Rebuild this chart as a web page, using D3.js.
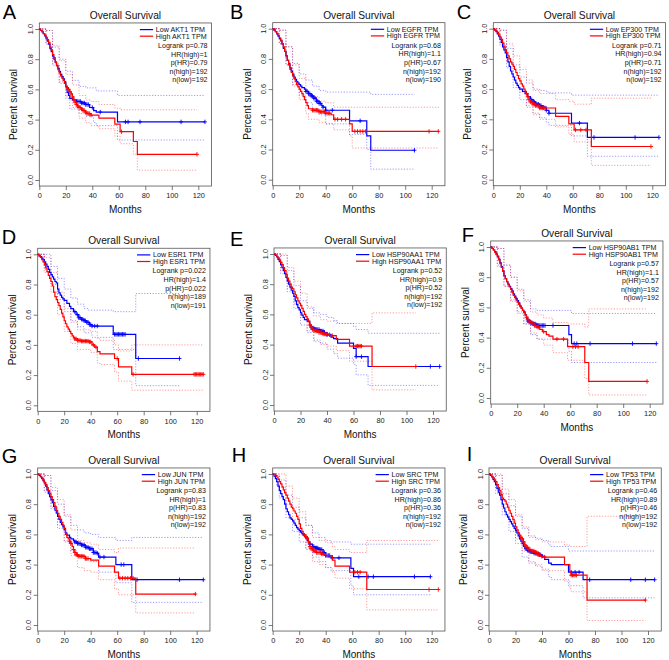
<!DOCTYPE html>
<html><head><meta charset="utf-8">
<script src="https://cdn.jsdelivr.net/npm/d3@7"></script>
<style>body{margin:0;background:#fff}svg{font-family:"Liberation Sans",Arial,Helvetica,sans-serif}</style>
</head><body><svg id="c" width="669" height="660"></svg>
<script>
// ---------- DATA ----------
const genes = ["AKT1","EGFR","EP300","ESR1","HSP90AA1","HSP90AB1","JUN","SRC","TP53"];
const panelLetters = ["A","B","C","D","E","F","G","H","I"];
const logrankP = ["0.78","0.68","0.71","0.022","0.52","0.57","0.83","0.36","0.46"];
const hrHigh = ["1","1.1","0.94","1.4","0.9","1.1","1","0.86","0.89"];
const pHR = ["0.79","0.67","0.71","0.022","0.52","0.57","0.83","0.36","0.46"];
const nHigh = [192,192,192,189,192,192,192,192,192];
const nLow = [192,190,192,191,192,192,192,192,192];
const xTicks = [0,20,40,60,80,100,120];
const yTicks = [0,0.2,0.4,0.6,0.8,1.0];

// survival curves: [month, survival after step]
const akt1Low = [[0,1],[1,0.99],[2,0.98],[3,0.97],[4,0.955],[5,0.94],[6,0.92],[7,0.9],[8,0.87],[9,0.85],[10,0.82],[11,0.8],[12,0.78],[13,0.76],[14,0.74],[15,0.72],[16,0.7],[17,0.685],[18,0.67],[19,0.65],[20,0.62],[21,0.58],[22,0.56],[23,0.54],[25,0.53],[28,0.52],[32,0.51],[35,0.5],[38,0.48],[41,0.46],[43,0.45],[59,0.385],[125,0.385]];
const akt1High = [[0,1],[1,0.99],[2,0.985],[3,0.97],[4,0.96],[5,0.945],[6,0.93],[7,0.91],[8,0.88],[9,0.86],[10,0.83],[11,0.81],[12,0.78],[13,0.755],[14,0.73],[15,0.71],[16,0.69],[17,0.675],[18,0.66],[19,0.64],[20,0.62],[21,0.61],[22,0.6],[23,0.585],[24,0.57],[25,0.55],[26,0.53],[27,0.515],[28,0.5],[29,0.49],[30,0.48],[32,0.47],[33,0.46],[35,0.45],[36,0.44],[39,0.43],[45,0.41],[57,0.37],[61,0.32],[71,0.255],[74,0.17],[119,0.17]];
const akt1LowUp = [[0,1],[5,0.99],[10,0.88],[15,0.8],[20,0.72],[25,0.66],[30,0.62],[35,0.61],[43,0.59],[59,0.56],[125,0.56]];
const akt1LowLo = [[0,1],[5,0.9],[10,0.76],[15,0.65],[20,0.54],[23,0.47],[30,0.44],[35,0.42],[41,0.38],[43,0.36],[59,0.265],[125,0.265]];
const akt1HighUp = [[0,1],[5,0.99],[10,0.89],[15,0.79],[20,0.7],[25,0.63],[30,0.56],[35,0.53],[39,0.52],[45,0.5],[57,0.475],[61,0.465],[119,0.465]];
const akt1HighLo = [[0,1],[5,0.9],[10,0.77],[15,0.64],[20,0.55],[25,0.48],[30,0.41],[35,0.38],[39,0.36],[45,0.34],[57,0.29],[61,0.24],[71,0.17],[74,0.065],[119,0.065]];
const akt1LowCens = [29,30,31,32,33,34,35,36,37,40,46,65,67,76,107,125];
const akt1HighCens = [21,22,23,24,25,26,27,28,29,30,31,32,33,34,35,36,37,38,39,62,119];

const egfrLow = [[0,1],[1,0.99],[2,0.98],[3,0.965],[4,0.95],[5,0.935],[6,0.92],[7,0.9],[8,0.87],[9,0.85],[10,0.82],[11,0.79],[12,0.77],[13,0.74],[14,0.72],[15,0.7],[16,0.68],[17,0.665],[18,0.65],[19,0.64],[20,0.63],[21,0.62],[22,0.61],[24,0.6],[25,0.585],[27,0.57],[29,0.555],[31,0.54],[33,0.52],[35,0.505],[37,0.49],[38,0.48],[40,0.46],[58,0.39],[71,0.29],[74,0.195],[107,0.195]];
const egfrHigh = [[0,1],[1,0.99],[2,0.98],[3,0.97],[4,0.955],[5,0.94],[6,0.925],[7,0.9],[8,0.88],[9,0.85],[10,0.82],[11,0.79],[12,0.76],[13,0.73],[14,0.71],[15,0.69],[16,0.67],[17,0.65],[18,0.63],[19,0.615],[20,0.6],[21,0.585],[22,0.57],[23,0.55],[24,0.53],[25,0.51],[26,0.49],[27,0.47],[30,0.46],[35,0.45],[40,0.44],[44,0.43],[46,0.4],[58,0.37],[60,0.32],[125,0.32]];
const egfrLowUp = [[0,1],[5,0.99],[10,0.88],[15,0.77],[20,0.7],[25,0.66],[30,0.62],[35,0.59],[40,0.58],[74,0.565],[107,0.565]];
const egfrLowLo = [[0,1],[5,0.9],[10,0.76],[15,0.63],[20,0.56],[25,0.51],[30,0.47],[35,0.43],[40,0.37],[58,0.3],[71,0.2],[74,0.07],[107,0.07]];
const egfrHighUp = [[0,1],[5,0.99],[10,0.88],[15,0.76],[20,0.67],[25,0.59],[27,0.55],[35,0.52],[40,0.51],[46,0.48],[125,0.475]];
const egfrHighLo = [[0,1],[5,0.9],[10,0.76],[15,0.62],[20,0.53],[25,0.44],[27,0.4],[35,0.38],[40,0.37],[46,0.33],[58,0.29],[60,0.21],[125,0.21]];
const egfrLowCens = [25,26,27,28,29,30,31,32,33,34,35,36,38,40,45,66,107];
const egfrHighCens = [30,31,32,33,34,35,36,37,38,39,40,41,42,43,47,49,52,55,62,64,66,68,70,118,125];

const ep300Low = [[0,1],[1,0.99],[2,0.98],[3,0.965],[4,0.95],[5,0.93],[6,0.91],[7,0.88],[8,0.86],[9,0.84],[10,0.81],[11,0.78],[12,0.75],[13,0.72],[14,0.7],[15,0.68],[16,0.66],[17,0.64],[18,0.625],[19,0.61],[20,0.6],[22,0.585],[24,0.57],[26,0.55],[28,0.53],[30,0.515],[32,0.5],[35,0.49],[37,0.48],[40,0.46],[42,0.44],[59,0.375],[71,0.28],[125,0.28]];
const ep300High = [[0,1],[1,0.99],[2,0.985],[3,0.975],[4,0.96],[5,0.945],[6,0.93],[7,0.905],[8,0.88],[9,0.86],[10,0.84],[11,0.82],[12,0.8],[13,0.78],[14,0.765],[15,0.75],[16,0.73],[17,0.71],[18,0.69],[19,0.67],[20,0.655],[21,0.635],[22,0.62],[23,0.6],[24,0.585],[25,0.57],[26,0.55],[27,0.53],[28,0.515],[30,0.5],[32,0.49],[35,0.475],[47,0.42],[57,0.37],[61,0.33],[74,0.22],[119,0.22]];
const ep300LowUp = [[0,1],[5,0.99],[10,0.87],[15,0.76],[20,0.68],[25,0.64],[30,0.6],[35,0.59],[40,0.58],[42,0.575],[59,0.56],[125,0.56]];
const ep300LowLo = [[0,1],[5,0.89],[10,0.74],[15,0.61],[20,0.53],[25,0.48],[30,0.44],[35,0.41],[40,0.38],[42,0.36],[59,0.29],[71,0.155],[125,0.155]];
const ep300HighUp = [[0,1],[5,0.99],[10,0.9],[15,0.82],[20,0.73],[25,0.66],[30,0.59],[35,0.57],[47,0.53],[57,0.52],[61,0.5],[74,0.54],[119,0.54]];
const ep300HighLo = [[0,1],[5,0.9],[10,0.78],[15,0.68],[20,0.58],[25,0.49],[30,0.43],[35,0.4],[47,0.35],[57,0.3],[61,0.25],[74,0.095],[119,0.095]];
const ep300LowCens = [28,29,30,31,32,33,34,35,36,37,38,40,42,65,76,107,125];
const ep300HighCens = [25,26,27,28,29,30,31,32,33,34,35,36,37,38,39,62,66,70,119];

const esr1Low = [[0,1],[1,0.99],[2,0.985],[3,0.975],[4,0.965],[5,0.95],[6,0.935],[7,0.92],[8,0.9],[9,0.88],[10,0.865],[11,0.85],[12,0.835],[13,0.82],[14,0.81],[15,0.77],[16,0.745],[17,0.73],[18,0.715],[19,0.705],[20,0.695],[22,0.675],[24,0.655],[25,0.64],[27,0.62],[29,0.6],[31,0.58],[33,0.57],[35,0.56],[37,0.55],[39,0.535],[41,0.525],[57,0.47],[74,0.31],[107,0.31]];
const esr1High = [[0,1],[1,0.99],[2,0.98],[3,0.965],[4,0.95],[5,0.93],[6,0.91],[7,0.885],[8,0.86],[9,0.84],[10,0.82],[11,0.79],[12,0.75],[13,0.72],[14,0.7],[15,0.68],[16,0.66],[17,0.635],[18,0.61],[19,0.585],[20,0.56],[21,0.54],[22,0.52],[23,0.505],[24,0.49],[25,0.475],[26,0.46],[27,0.45],[28,0.44],[30,0.43],[33,0.425],[39,0.42],[41,0.4],[43,0.385],[45,0.355],[47,0.34],[58,0.31],[61,0.255],[71,0.205],[125,0.205]];
const esr1LowUp = [[0,1],[5,1],[10,0.92],[15,0.84],[20,0.77],[25,0.71],[30,0.67],[35,0.64],[38,0.63],[57,0.62],[74,0.74],[107,0.74]];
const esr1LowLo = [[0,1],[5,0.9],[10,0.8],[15,0.7],[20,0.62],[25,0.56],[30,0.52],[35,0.48],[41,0.45],[57,0.37],[74,0.13],[107,0.13]];
const esr1HighUp = [[0,1],[5,0.98],[10,0.88],[15,0.75],[20,0.64],[25,0.55],[30,0.5],[40,0.49],[45,0.44],[47,0.43],[58,0.4],[61,0.36],[71,0.4],[125,0.4]];
const esr1HighLo = [[0,1],[5,0.88],[10,0.75],[15,0.6],[20,0.49],[25,0.41],[30,0.37],[40,0.35],[45,0.28],[47,0.27],[58,0.22],[61,0.16],[71,0.1],[125,0.1]];
const esr1LowCens = [28,30,31,32,33,34,35,36,37,38,39,40,41,43,45,58,59,60,61,62,63,64,65,66,76,107];
const esr1HighCens = [28,29,30,31,32,33,34,35,36,37,38,39,40,42,44,60,72,118,119,120,121,122,123,124,125];

const hsp90aa1Low = [[0,1],[1,0.99],[2,0.98],[3,0.965],[4,0.95],[5,0.93],[6,0.91],[7,0.89],[8,0.87],[9,0.845],[10,0.82],[11,0.8],[12,0.78],[13,0.76],[14,0.74],[15,0.72],[16,0.69],[17,0.665],[18,0.645],[19,0.63],[20,0.61],[21,0.595],[22,0.58],[23,0.565],[25,0.555],[27,0.53],[28,0.51],[31,0.5],[35,0.49],[38,0.48],[40,0.465],[43,0.45],[45,0.44],[48,0.41],[60,0.375],[62,0.32],[71,0.255],[125,0.255]];
const hsp90aa1High = [[0,1],[1,0.995],[2,0.985],[3,0.975],[4,0.96],[5,0.945],[6,0.93],[7,0.91],[8,0.89],[9,0.865],[10,0.84],[11,0.82],[12,0.8],[13,0.78],[14,0.77],[15,0.75],[16,0.73],[17,0.71],[18,0.69],[19,0.675],[20,0.66],[21,0.64],[22,0.62],[23,0.6],[24,0.585],[25,0.57],[26,0.55],[27,0.53],[28,0.515],[29,0.5],[31,0.49],[34,0.48],[37,0.47],[42,0.46],[47,0.435],[57,0.39],[74,0.255],[107,0.255]];
const hsp90aa1LowUp = [[0,1],[5,0.99],[10,0.89],[15,0.79],[20,0.69],[25,0.64],[30,0.61],[35,0.6],[40,0.58],[45,0.56],[48,0.54],[60,0.52],[62,0.5],[71,0.475],[125,0.475]];
const hsp90aa1LowLo = [[0,1],[5,0.87],[10,0.75],[15,0.64],[20,0.53],[25,0.48],[30,0.43],[35,0.41],[40,0.37],[45,0.34],[48,0.31],[60,0.27],[62,0.2],[71,0.13],[125,0.13]];
const hsp90aa1HighUp = [[0,1],[5,1],[10,0.91],[15,0.82],[20,0.74],[25,0.65],[30,0.59],[35,0.565],[40,0.555],[47,0.54],[57,0.54],[74,0.61],[107,0.61]];
const hsp90aa1HighLo = [[0,1],[5,0.89],[10,0.77],[15,0.67],[20,0.58],[25,0.49],[30,0.42],[35,0.4],[40,0.39],[47,0.36],[57,0.29],[74,0.1],[107,0.1]];
const hsp90aa1LowCens = [29,30,31,32,33,34,35,36,37,38,40,42,62,66,118,125];
const hsp90aa1HighCens = [27,28,29,30,31,32,33,34,35,36,37,38,39,40,44,62,63,64,65,66,107];

const hsp90ab1Low = [[0,1],[1,0.99],[2,0.98],[3,0.97],[4,0.955],[5,0.94],[6,0.92],[7,0.895],[8,0.87],[9,0.84],[10,0.81],[11,0.79],[12,0.77],[13,0.755],[14,0.74],[15,0.725],[16,0.71],[17,0.69],[18,0.675],[19,0.66],[20,0.645],[21,0.63],[22,0.61],[23,0.595],[24,0.58],[25,0.57],[26,0.55],[27,0.525],[28,0.51],[30,0.5],[32,0.49],[35,0.48],[59,0.42],[61,0.36],[125,0.36]];
const hsp90ab1High = [[0,1],[1,0.99],[2,0.98],[3,0.965],[4,0.95],[5,0.935],[6,0.915],[7,0.89],[8,0.865],[9,0.84],[10,0.81],[11,0.79],[12,0.77],[13,0.75],[14,0.735],[15,0.72],[16,0.7],[17,0.68],[18,0.665],[19,0.65],[20,0.635],[21,0.62],[22,0.605],[23,0.595],[24,0.58],[25,0.565],[26,0.55],[27,0.535],[28,0.52],[29,0.505],[31,0.495],[33,0.48],[35,0.47],[37,0.455],[39,0.44],[42,0.42],[44,0.41],[47,0.39],[58,0.34],[71,0.235],[74,0.11],[118,0.11]];
const hsp90ab1LowUp = [[0,1],[5,0.99],[10,0.88],[15,0.8],[20,0.72],[25,0.65],[30,0.59],[35,0.58],[59,0.58],[61,0.56],[125,0.56]];
const hsp90ab1LowLo = [[0,1],[5,0.88],[10,0.74],[15,0.65],[20,0.57],[25,0.49],[30,0.42],[35,0.39],[59,0.31],[61,0.235],[125,0.235]];
const hsp90ab1HighUp = [[0,1],[5,0.99],[10,0.88],[15,0.8],[20,0.71],[25,0.64],[30,0.57],[35,0.55],[40,0.53],[47,0.5],[58,0.49],[71,0.47],[74,0.59],[118,0.59]];
const hsp90ab1HighLo = [[0,1],[5,0.87],[10,0.74],[15,0.64],[20,0.56],[25,0.49],[30,0.43],[35,0.39],[40,0.35],[47,0.3],[58,0.25],[71,0.13],[74,0.02],[118,0.02]];
const hsp90ab1LowCens = [28,29,30,31,32,33,34,35,36,37,38,39,40,41,47,63,65,75,107,125];
const hsp90ab1HighCens = [27,28,29,30,31,32,33,34,35,36,40,50,55,62,64,66,118];

const junLow = [[0,1],[1,0.99],[2,0.98],[3,0.97],[4,0.955],[5,0.94],[6,0.92],[7,0.895],[8,0.87],[9,0.85],[10,0.83],[11,0.81],[12,0.785],[13,0.76],[14,0.74],[15,0.72],[16,0.7],[17,0.68],[18,0.665],[19,0.65],[20,0.63],[21,0.61],[22,0.595],[24,0.58],[25,0.57],[27,0.56],[28,0.55],[30,0.54],[33,0.53],[36,0.515],[39,0.505],[42,0.48],[45,0.475],[46,0.45],[59,0.4],[71,0.3],[125,0.3]];
const junHigh = [[0,1],[1,0.995],[2,0.985],[3,0.975],[4,0.96],[5,0.945],[6,0.93],[7,0.91],[8,0.89],[9,0.87],[10,0.85],[11,0.83],[12,0.81],[13,0.785],[14,0.76],[15,0.74],[16,0.72],[17,0.7],[18,0.68],[19,0.66],[20,0.64],[21,0.6],[22,0.58],[23,0.57],[24,0.555],[25,0.54],[26,0.52],[27,0.5],[28,0.48],[29,0.465],[31,0.455],[36,0.44],[40,0.43],[46,0.39],[58,0.35],[61,0.31],[74,0.205],[119,0.205]];
const junLowUp = [[0,1],[5,0.99],[10,0.89],[15,0.8],[20,0.72],[25,0.66],[30,0.63],[35,0.61],[40,0.6],[46,0.58],[59,0.56],[71,0.58],[125,0.58]];
const junLowLo = [[0,1],[5,0.88],[10,0.77],[15,0.64],[20,0.55],[25,0.49],[30,0.46],[35,0.44],[40,0.42],[46,0.35],[59,0.28],[71,0.15],[125,0.15]];
const junHighUp = [[0,1],[5,0.99],[10,0.91],[15,0.83],[20,0.73],[25,0.63],[30,0.56],[35,0.545],[40,0.535],[46,0.5],[58,0.48],[61,0.51],[119,0.51]];
const junHighLo = [[0,1],[5,0.89],[10,0.78],[15,0.66],[20,0.56],[25,0.46],[30,0.38],[35,0.36],[40,0.35],[46,0.3],[58,0.24],[61,0.2],[74,0.08],[119,0.08]];
const junLowCens = [28,29,30,31,32,33,34,35,36,37,38,39,40,41,42,43,44,45,47,50,63,65,75,107,125];
const junHighCens = [24,25,27,28,29,30,31,32,33,34,35,36,37,38,62,64,66,68,70,72,119];

const srcLow = [[0,1],[1,0.985],[2,0.97],[3,0.95],[4,0.92],[5,0.89],[6,0.87],[7,0.85],[8,0.83],[9,0.8],[10,0.77],[11,0.75],[12,0.73],[13,0.71],[14,0.7],[15,0.69],[16,0.675],[17,0.66],[18,0.645],[19,0.635],[20,0.625],[21,0.615],[22,0.605],[23,0.595],[24,0.585],[25,0.575],[26,0.56],[27,0.55],[28,0.535],[30,0.52],[32,0.51],[35,0.5],[38,0.48],[40,0.46],[44,0.445],[59,0.375],[61,0.32],[119,0.32]];
const srcHigh = [[0,1],[2,0.99],[3,0.98],[4,0.965],[5,0.95],[6,0.935],[7,0.915],[8,0.895],[9,0.875],[10,0.86],[11,0.84],[12,0.82],[13,0.8],[14,0.78],[15,0.77],[16,0.755],[17,0.74],[18,0.72],[19,0.7],[20,0.67],[21,0.64],[22,0.62],[23,0.605],[24,0.595],[25,0.585],[26,0.575],[27,0.55],[28,0.52],[29,0.505],[31,0.49],[33,0.48],[37,0.47],[40,0.46],[45,0.43],[47,0.39],[58,0.35],[71,0.235],[125,0.235]];
const srcLowUp = [[0,1],[3,0.99],[5,0.96],[10,0.86],[15,0.78],[20,0.71],[25,0.66],[30,0.61],[35,0.58],[40,0.56],[44,0.55],[59,0.535],[119,0.535]];
const srcLowLo = [[0,1],[3,0.92],[5,0.84],[10,0.71],[15,0.62],[20,0.55],[25,0.5],[30,0.45],[35,0.42],[40,0.38],[44,0.36],[59,0.26],[61,0.2],[119,0.2]];
const srcHighUp = [[0,1],[5,1],[10,0.92],[15,0.84],[20,0.75],[25,0.66],[30,0.58],[35,0.56],[40,0.545],[45,0.52],[47,0.5],[58,0.48],[71,0.56],[125,0.56]];
const srcHighLo = [[0,1],[5,0.91],[10,0.8],[15,0.7],[20,0.6],[25,0.51],[30,0.42],[35,0.4],[40,0.38],[45,0.35],[47,0.31],[58,0.24],[71,0.1],[125,0.1]];
const srcLowCens = [28,30,31,32,33,34,35,36,37,38,39,40,41,42,43,45,50,65,72,76,107,119];
const srcHighCens = [24,25,26,27,28,29,30,31,32,33,34,35,36,37,38,62,64,66,118,125];

const tp53Low = [[0,1],[1,0.99],[2,0.98],[3,0.965],[4,0.95],[5,0.93],[6,0.905],[7,0.88],[8,0.86],[9,0.83],[10,0.8],[11,0.775],[12,0.75],[13,0.73],[14,0.715],[15,0.7],[16,0.685],[17,0.67],[18,0.655],[19,0.64],[20,0.625],[21,0.61],[22,0.59],[23,0.57],[24,0.555],[25,0.54],[26,0.52],[27,0.505],[29,0.495],[31,0.485],[34,0.475],[38,0.465],[40,0.455],[42,0.435],[45,0.41],[47,0.4],[60,0.35],[71,0.3],[125,0.3]];
const tp53High = [[0,1],[1,0.995],[2,0.985],[3,0.975],[4,0.96],[5,0.95],[6,0.93],[7,0.91],[8,0.89],[9,0.865],[10,0.84],[11,0.83],[12,0.82],[13,0.8],[14,0.78],[15,0.76],[16,0.74],[17,0.72],[18,0.7],[19,0.675],[20,0.65],[21,0.63],[22,0.61],[23,0.595],[24,0.58],[25,0.57],[26,0.55],[27,0.53],[28,0.515],[30,0.5],[32,0.49],[35,0.48],[37,0.465],[39,0.455],[40,0.45],[57,0.4],[61,0.35],[62,0.33],[74,0.165],[118,0.165]];
const tp53LowUp = [[0,1],[5,0.99],[10,0.87],[15,0.79],[20,0.72],[25,0.64],[30,0.59],[35,0.575],[40,0.56],[45,0.53],[47,0.52],[60,0.49],[125,0.49]];
const tp53LowLo = [[0,1],[5,0.87],[10,0.73],[15,0.62],[20,0.54],[25,0.45],[30,0.41],[35,0.39],[40,0.37],[45,0.32],[47,0.3],[60,0.26],[71,0.18],[125,0.18]];
const tp53HighUp = [[0,1],[5,1],[10,0.9],[15,0.83],[20,0.73],[25,0.65],[30,0.58],[35,0.565],[40,0.55],[57,0.53],[61,0.52],[74,0.72],[118,0.72]];
const tp53HighLo = [[0,1],[5,0.9],[10,0.78],[15,0.69],[20,0.57],[25,0.49],[30,0.42],[35,0.4],[40,0.36],[57,0.29],[61,0.24],[62,0.22],[74,0.03],[118,0.03]];
const tp53LowCens = [28,29,30,31,32,33,34,35,36,37,38,39,40,62,65,68,76,107,118,125];
const tp53HighCens = [24,25,26,27,28,29,30,31,32,33,34,35,36,37,38,42,62,63,64,65,66,118];

const lowCurves = [akt1Low,egfrLow,ep300Low,esr1Low,hsp90aa1Low,hsp90ab1Low,junLow,srcLow,tp53Low];
const highCurves = [akt1High,egfrHigh,ep300High,esr1High,hsp90aa1High,hsp90ab1High,junHigh,srcHigh,tp53High];
const lowUpper = [akt1LowUp,egfrLowUp,ep300LowUp,esr1LowUp,hsp90aa1LowUp,hsp90ab1LowUp,junLowUp,srcLowUp,tp53LowUp];
const lowLower = [akt1LowLo,egfrLowLo,ep300LowLo,esr1LowLo,hsp90aa1LowLo,hsp90ab1LowLo,junLowLo,srcLowLo,tp53LowLo];
const highUpper = [akt1HighUp,egfrHighUp,ep300HighUp,esr1HighUp,hsp90aa1HighUp,hsp90ab1HighUp,junHighUp,srcHighUp,tp53HighUp];
const highLower = [akt1HighLo,egfrHighLo,ep300HighLo,esr1HighLo,hsp90aa1HighLo,hsp90ab1HighLo,junHighLo,srcHighLo,tp53HighLo];
const lowCensored = [akt1LowCens,egfrLowCens,ep300LowCens,esr1LowCens,hsp90aa1LowCens,hsp90ab1LowCens,junLowCens,srcLowCens,tp53LowCens];
const highCensored = [akt1HighCens,egfrHighCens,ep300HighCens,esr1HighCens,hsp90aa1HighCens,hsp90ab1HighCens,junHighCens,srcHighCens,tp53HighCens];

// ---------- LAYOUT ----------
const layout = [
  {x0:39.3,y1:29,lx:2.7,ly:19.3},{x0:272.7,y1:28.7,lx:230,ly:19},{x0:493.3,y1:28.7,lx:456.7,ly:19},
  {x0:37.7,y1:254.3,lx:1.7,ly:244},{x0:274,y1:254,lx:230,ly:245.5},{x0:490.7,y1:247,lx:461.7,ly:242},
  {x0:37.7,y1:474,lx:1.7,ly:463},{x0:272.7,y1:474,lx:231.7,ly:462},{x0:489,y1:474,lx:466.7,ly:461}
];
const BLUE = "#0000ff", RED = "#ff0000", BOXC = "#555";

const svg = d3.select("#c");
const stepLine = (x,y) => d3.line().x(d=>x(d[0])).y(d=>y(d[1])).curve(d3.curveStepAfter);
function survAt(curve,t){let s=1;for(const [tt,ss] of curve){if(tt<=t)s=ss;else break;}return s;}

genes.forEach((gene,i)=>{
  const L = layout[i];
  const x = d3.scaleLinear().domain([0,130]).range([L.x0, L.x0+172.25]);
  const y = d3.scaleLinear().domain([0,1]).range([L.y1+151, L.y1]);
  const g = svg.append("g");
  const bx0 = x(0), bx1 = x(130), byT = y(1.04), byB = y(-0.04);

  // title & letter
  g.append("text").attr("x",(bx0+bx1)/2).attr("y",L.y1-10).attr("text-anchor","middle")
    .attr("font-size",10.2).attr("fill","#111").text("Overall Survival");
  g.append("text").attr("x",L.lx).attr("y",L.ly).attr("font-size",20).attr("fill","#000").text(panelLetters[i]);

  // axes
  const xa = g.append("g").attr("transform",`translate(0,${byB})`)
    .call(d3.axisBottom(x).tickValues(xTicks).tickSize(4).tickPadding(3.2).tickFormat(d3.format("d")));
  xa.select(".domain").remove();
  xa.selectAll("line").attr("stroke",BOXC).attr("stroke-width",0.8);
  xa.selectAll("text").attr("font-size",7.4).attr("fill","#222");
  xa.attr("font-family",null);

  const ya = g.append("g").attr("transform",`translate(${bx0},0)`)
    .call(d3.axisLeft(y).tickValues(yTicks).tickSize(4).tickFormat(""));
  ya.select(".domain").remove();
  ya.selectAll("line").attr("stroke",BOXC).attr("stroke-width",0.8);
  ya.attr("font-family",null);
  g.selectAll(null).data(yTicks).enter().append("text")
    .attr("transform",d=>`translate(${bx0-6.5},${y(d)}) rotate(-90)`)
    .attr("text-anchor","middle").attr("font-size",7.4).attr("fill","#222")
    .text(d=>d3.format(".1f")(d));

  // axis titles
  g.append("text").attr("transform",`translate(${bx0-22},${(byT+byB)/2}) rotate(-90)`)
    .attr("text-anchor","middle").attr("font-size",10).attr("fill","#111").text("Percent survival");
  g.append("text").attr("x",(bx0+bx1)/2).attr("y",byB+27).attr("text-anchor","middle")
    .attr("font-size",10).attr("fill","#111").text("Months");

  // box
  g.append("rect").attr("x",bx0).attr("y",byT).attr("width",bx1-bx0).attr("height",byB-byT)
    .attr("fill","none").attr("stroke",BOXC).attr("stroke-width",0.8);

  const line = stepLine(x,y);
  // confidence bands (dotted)
  [[lowUpper[i],BLUE],[lowLower[i],BLUE],[highUpper[i],RED],[highLower[i],RED]].forEach(([c,col])=>{
    g.append("path").attr("d",line(c)).attr("fill","none").attr("stroke",col)
      .attr("stroke-width",0.8).attr("stroke-dasharray","1.2,1.6").attr("stroke-opacity",0.5);
  });
  // survival curves + censor marks
  [[lowCurves[i],lowCensored[i],BLUE],[highCurves[i],highCensored[i],RED]].forEach(([c,cens,col])=>{
    g.append("path").attr("d",line(c)).attr("fill","none").attr("stroke",col).attr("stroke-width",1.2);
    g.selectAll(null).data(cens).enter().append("path")
      .attr("d",t=>{const px=x(t),py=y(survAt(c,t));return `M${px-2},${py}H${px+2}M${px},${py-2.2}V${py+2.2}`;})
      .attr("stroke",col).attr("stroke-width",0.9).attr("fill","none");
  });

  // legend
  const fs = 6.6;
  const lowLab = `Low ${gene} TPM`, highLab = `High ${gene} TPM`;
  const t1 = g.append("text").attr("font-size",fs).attr("fill","#111").text(lowLab);
  const t2 = g.append("text").attr("font-size",fs).attr("fill","#111").text(highLab);
  const w1 = t1.node().getComputedTextLength(), w2 = t2.node().getComputedTextLength();
  const maxW = Math.max(w1,w2);
  const target = maxW*7.1/6.6;
  t1.attr("textLength",w1*7.1/6.6).attr("lengthAdjust","spacingAndGlyphs");
  t2.attr("textLength",w2*7.1/6.6).attr("lengthAdjust","spacingAndGlyphs");
  const ts = bx1 - 5 - target;
  const r1 = L.y1+0.6, r2 = L.y1+7.2;
  t1.attr("x",ts).attr("y",r1+2.3);
  t2.attr("x",ts).attr("y",r2+2.3);
  g.append("line").attr("x1",ts-16).attr("x2",ts-2.7).attr("y1",r1).attr("y2",r1).attr("stroke",BLUE).attr("stroke-width",1.2);
  g.append("line").attr("x1",ts-16).attr("x2",ts-2.7).attr("y1",r2).attr("y2",r2).attr("stroke",RED).attr("stroke-width",1.2);
  const stats = [`Logrank p=${logrankP[i]}`,`HR(high)=${hrHigh[i]}`,`p(HR)=${pHR[i]}`,`n(high)=${nHigh[i]}`,`n(low)=${nLow[i]}`];
  g.selectAll(null).data(stats).enter().append("text")
    .attr("x",bx1-4).attr("y",(d,k)=>L.y1+16.4+8.6*k+2.6).attr("text-anchor","end")
    .attr("font-size",7.1).attr("fill","#111").text(d=>d);
});
</script></body></html>
